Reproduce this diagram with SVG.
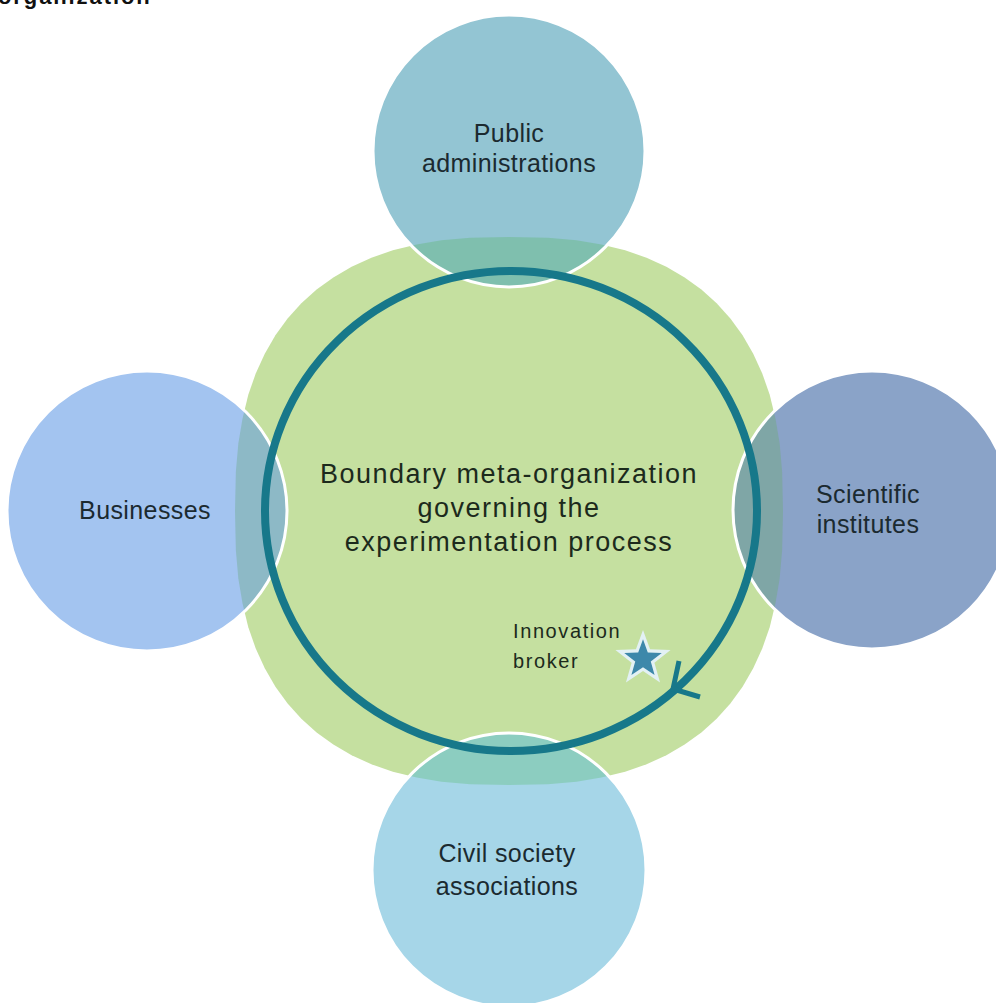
<svg xmlns="http://www.w3.org/2000/svg" width="996" height="1003" viewBox="0 0 996 1003">
<style>
.lbl{font-family:"Liberation Sans",Arial,sans-serif;font-size:25px;fill:#1b2a30;text-anchor:middle;letter-spacing:0.4px}
.ctr{font-family:"Liberation Sans",Arial,sans-serif;font-size:27px;fill:#1c2a1c;text-anchor:middle;letter-spacing:1.5px}
.sm{font-family:"Liberation Sans",Arial,sans-serif;font-size:20px;fill:#1c2a1c;letter-spacing:1.6px}
.edge{fill:none;stroke:#fff;stroke-width:3}
</style>
<defs>
<clipPath id="cg"><polygon transform="translate(509,511)" points="274,0 273.16,38.90 270.67,67.52 266.51,92.37 260.70,116.14 253.26,137.56 244.22,157.37 233.58,175.64 221.39,192.40 207.65,207.65 192.40,221.39 175.64,233.58 157.37,244.22 137.56,253.26 116.14,260.70 92.37,266.51 67.52,270.67 38.90,273.16 0,274 -38.90,273.16 -67.52,270.67 -92.37,266.51 -116.14,260.70 -137.56,253.26 -157.37,244.22 -175.64,233.58 -192.40,221.39 -207.65,207.65 -221.39,192.40 -233.58,175.64 -244.22,157.37 -253.26,137.56 -260.70,116.14 -266.51,92.37 -270.67,67.52 -273.16,38.90 -274,0 -273.16,-38.90 -270.67,-67.52 -266.51,-92.37 -260.70,-116.14 -253.26,-137.56 -244.22,-157.37 -233.58,-175.64 -221.39,-192.40 -207.65,-207.65 -192.40,-221.39 -175.64,-233.58 -157.37,-244.22 -137.56,-253.26 -116.14,-260.70 -92.37,-266.51 -67.52,-270.67 -38.90,-273.16 0,-274 38.90,-273.16 67.52,-270.67 92.37,-266.51 116.14,-260.70 137.56,-253.26 157.37,-244.22 175.64,-233.58 192.40,-221.39 207.65,-207.65 221.39,-192.40 233.58,-175.64 244.22,-157.37 253.26,-137.56 260.70,-116.14 266.51,-92.37 270.67,-67.52 273.16,-38.90"/></clipPath>
<polygon id="star" points="0,-29 7.05,-9.71 27.58,-8.96 11.41,3.71 17.05,23.46 0,12 -17.05,23.46 -11.41,3.71 -27.58,-8.96 -7.05,-9.71"/>
</defs>
<rect width="996" height="1003" fill="#fff"/>
<text x="-2" y="4" font-family="'Liberation Sans',Arial,sans-serif" font-size="22" font-weight="bold" letter-spacing="1.9" fill="#111">organization</text>

<g id="boundary">
<polygon fill="#c5e0a0" transform="translate(509,511)" points="274,0 273.16,38.90 270.67,67.52 266.51,92.37 260.70,116.14 253.26,137.56 244.22,157.37 233.58,175.64 221.39,192.40 207.65,207.65 192.40,221.39 175.64,233.58 157.37,244.22 137.56,253.26 116.14,260.70 92.37,266.51 67.52,270.67 38.90,273.16 0,274 -38.90,273.16 -67.52,270.67 -92.37,266.51 -116.14,260.70 -137.56,253.26 -157.37,244.22 -175.64,233.58 -192.40,221.39 -207.65,207.65 -221.39,192.40 -233.58,175.64 -244.22,157.37 -253.26,137.56 -260.70,116.14 -266.51,92.37 -270.67,67.52 -273.16,38.90 -274,0 -273.16,-38.90 -270.67,-67.52 -266.51,-92.37 -260.70,-116.14 -253.26,-137.56 -244.22,-157.37 -233.58,-175.64 -221.39,-192.40 -207.65,-207.65 -192.40,-221.39 -175.64,-233.58 -157.37,-244.22 -137.56,-253.26 -116.14,-260.70 -92.37,-266.51 -67.52,-270.67 -38.90,-273.16 0,-274 38.90,-273.16 67.52,-270.67 92.37,-266.51 116.14,-260.70 137.56,-253.26 157.37,-244.22 175.64,-233.58 192.40,-221.39 207.65,-207.65 221.39,-192.40 233.58,-175.64 244.22,-157.37 253.26,-137.56 260.70,-116.14 266.51,-92.37 270.67,-67.52 273.16,-38.90"/>
</g>

<g id="public">
<circle cx="509" cy="151" r="136" fill="#93c5d3"/>
<circle cx="509" cy="151" r="136" fill="#7fbfae" clip-path="url(#cg)"/>
<circle cx="509" cy="151" r="136" class="edge"/>
<text class="lbl" x="509" y="142">Public</text>
<text class="lbl" x="509" y="172">administrations</text>
</g>

<g id="businesses">
<circle cx="147" cy="511" r="140" fill="#a3c4f0"/>
<circle cx="147" cy="511" r="140" fill="#8db9c6" clip-path="url(#cg)"/>
<circle cx="147" cy="511" r="140" class="edge"/>
<text class="lbl" x="145" y="519">Businesses</text>
</g>

<g id="scientific">
<circle cx="872" cy="510" r="139" fill="#8aa3c8"/>
<circle cx="872" cy="510" r="139" fill="#7fa6a6" clip-path="url(#cg)"/>
<circle cx="872" cy="510" r="139" class="edge"/>
<text class="lbl" x="868" y="503">Scientific</text>
<text class="lbl" x="868" y="533">institutes</text>
</g>

<g id="civil">
<circle cx="509" cy="870" r="137" fill="#a6d6e8"/>
<circle cx="509" cy="870" r="137" fill="#8ccdc0" clip-path="url(#cg)"/>
<circle cx="509" cy="870" r="137" class="edge"/>
<text class="lbl" x="507" y="862">Civil society</text>
<text class="lbl" x="507" y="895">associations</text>
</g>

<g id="connectors">
<ellipse cx="511" cy="511" rx="246" ry="240" fill="none" stroke="#17788a" stroke-width="8"/>
<polyline points="679,661 673,689 700,697" fill="none" stroke="#17788a" stroke-width="5"/>
</g>

<g id="center-label">
<text class="ctr" x="509" y="483">Boundary meta-organization</text>
<text class="ctr" x="509" y="517">governing the</text>
<text class="ctr" x="509" y="551">experimentation  process</text>
</g>

<g id="broker">
<use href="#star" transform="translate(643,659)" fill="#e3f1f4"/>
<use href="#star" transform="translate(643,659) scale(0.68)" fill="#3d88aa"/>
<text class="sm" x="513" y="638">Innovation</text>
<text class="sm" x="513" y="668">broker</text>
</g>
</svg>
